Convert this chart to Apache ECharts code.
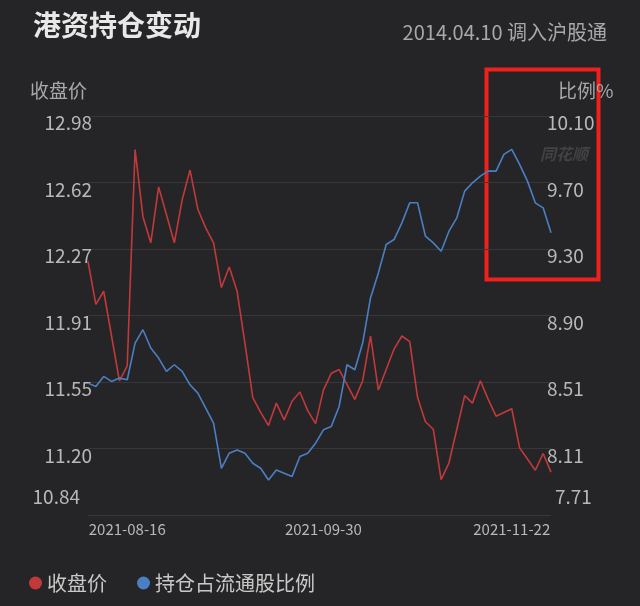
<!DOCTYPE html>
<html>
<head>
<meta charset="utf-8">
<script src="https://cdn.jsdelivr.net/npm/echarts@6/dist/echarts.min.js"></script>
<style>
html,body{margin:0;padding:0;background:#252527;}
#main{width:640px;height:606px;}
</style>
</head>
<body>
<div id="main"></div>
<script>
// closing price (left axis)
var closePrice = [12.20, 11.97, 12.04, 11.80, 11.56, 11.64, 12.80, 12.44, 12.30, 12.60,
    12.45, 12.30, 12.53, 12.69, 12.48, 12.38, 12.30, 12.06, 12.17, 12.04,
    11.76, 11.47, 11.39, 11.32, 11.44, 11.35, 11.45, 11.50, 11.40, 11.33,
    11.51, 11.60, 11.62, 11.54, 11.46, 11.56, 11.80, 11.51, 11.62, 11.73,
    11.80, 11.77, 11.47, 11.34, 11.30, 11.03, 11.12, 11.30, 11.48, 11.44,
    11.56, 11.46, 11.37, 11.39, 11.41, 11.20, 11.14, 11.08, 11.17, 11.07];
// holding ratio % (right axis)
var holdRatio = [8.50, 8.48, 8.54, 8.51, 8.53, 8.52, 8.74, 8.82, 8.71, 8.65,
    8.57, 8.61, 8.57, 8.49, 8.44, 8.35, 8.26, 7.99, 8.08, 8.10,
    8.08, 8.02, 7.99, 7.92, 7.98, 7.96, 7.94, 8.06, 8.08, 8.14,
    8.22, 8.24, 8.36, 8.61, 8.58, 8.74, 9.01, 9.16, 9.33, 9.36,
    9.46, 9.58, 9.58, 9.38, 9.34, 9.29, 9.41, 9.49, 9.65, 9.70,
    9.74, 9.77, 9.77, 9.87, 9.90, 9.81, 9.71, 9.58, 9.55, 9.40];
var tickIdx = [5, 30, 54];
var tickText = ['2021-08-16', '2021-09-30', '2021-11-22'];

var days = [];
for (var i = 0; i < closePrice.length; i++) {
    var k = tickIdx.indexOf(i);
    days.push(k >= 0 ? tickText[k] : 'd' + i);
}

var FONT = '"Noto Sans CJK SC", "Noto Sans", sans-serif';
var RED = '#c2393c', BLUE = '#4a7fc4';
var LBL = '#b8b8b8';

var mychart = echarts.init(document.getElementById('main'));
var option = {
    backgroundColor: '#252527',
    textStyle: {fontFamily: FONT},
    animation: false,
    title: [
        {text: '港资持仓变动', left: 28, top: 6,
         textStyle: {color: '#e8e8e8', fontSize: 28, fontWeight: 'bold', fontFamily: FONT}},
        {text: '2014.04.10 调入沪股通', right: 28, top: 17,
         textStyle: {color: '#a8a8a8', fontSize: 20, fontWeight: 'normal', fontFamily: FONT}}
    ],
    legend: {
        bottom: 8, left: 24, itemGap: 30,
        icon: 'circle', itemWidth: 13, itemHeight: 13,
        textStyle: {color: '#c8c8c8', fontSize: 20, fontFamily: FONT},
        data: ['收盘价', '持仓占流通股比例']
    },
    grid: {left: 88, right: 89, top: 116, bottom: 91},
    xAxis: {
        type: 'category',
        data: days,
        boundaryGap: false,
        axisLine: {show: false},
        axisTick: {show: false},
        axisLabel: {
            color: LBL, fontSize: 15, margin: 7,
            interval: function (idx) { return tickIdx.indexOf(idx) >= 0; }
        }
    },
    yAxis: [
        {
            type: 'value', min: 10.84, max: 12.98, interval: (12.98 - 10.84) / 6,
            name: '收盘价', nameLocation: 'end', nameGap: 16,
            nameTextStyle: {color: '#a8a8a8', fontSize: 19, align: 'left', padding: [0, 0, 0, -58]},
            axisLine: {show: false}, axisTick: {show: false},
            splitLine: {lineStyle: {color: '#38383a', width: 1}},
            axisLabel: {
                color: LBL, fontSize: 19, margin: -4,
                formatter: function (v) {
                    var s = v.toFixed(2);
                    return Math.abs(v - 10.84) < 0.001 ? '{lo|' + s + '}' : '{hi|' + s + '}';
                },
                rich: {
                    hi: {color: LBL, fontSize: 19, padding: [14, 0, 0, 0]},
                    lo: {color: LBL, fontSize: 19, padding: [0, 12, 36, 0]}
                }
            }
        },
        {
            type: 'value', min: 7.71, max: 10.10, interval: (10.10 - 7.71) / 6,
            name: '比例%', nameLocation: 'end', nameGap: 16,
            nameTextStyle: {color: '#a8a8a8', fontSize: 19, align: 'left', padding: [0, 0, 0, 7]},
            axisLine: {show: false}, axisTick: {show: false},
            splitLine: {show: false},
            axisLabel: {
                color: LBL, fontSize: 19, margin: -4,
                formatter: function (v) {
                    var s = v.toFixed(2);
                    return Math.abs(v - 7.71) < 0.001 ? '{lo|' + s + '}' : '{hi|' + s + '}';
                },
                rich: {
                    hi: {color: LBL, fontSize: 19, padding: [14, 0, 0, 0]},
                    lo: {color: LBL, fontSize: 19, padding: [0, 0, 36, 8]}
                }
            }
        }
    ],
    graphic: [
        {type: 'rect', left: 484, top: 67, shape: {width: 112, height: 210},
         style: {fill: 'none', stroke: '#f0201c', lineWidth: 4}},
        {type: 'text', left: 540, top: 146,
         style: {text: '同花顺', fill: 'rgba(200,200,200,0.18)', font: 'italic bold 16px ' + FONT}}
    ],
    series: [
        {name: '收盘价', type: 'line', yAxisIndex: 0, data: closePrice,
         symbol: 'none', itemStyle: {color: RED}, lineStyle: {color: RED, width: 1.6}},
        {name: '持仓占流通股比例', type: 'line', yAxisIndex: 1, data: holdRatio,
         symbol: 'none', itemStyle: {color: BLUE}, lineStyle: {color: BLUE, width: 1.6}}
    ]
};
mychart.setOption(option);
</script>
</body>
</html>
